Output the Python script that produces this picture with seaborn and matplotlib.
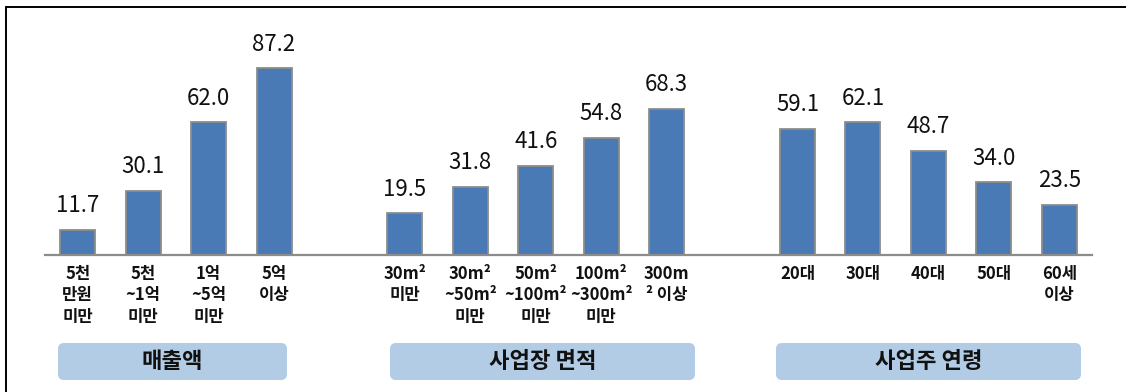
import matplotlib
matplotlib.use("Agg")
import matplotlib.pyplot as plt
from matplotlib.patches import FancyBboxPatch
from matplotlib.lines import Line2D
import numpy as np
import pandas as pd
import seaborn as sns

# ---- data ----
group_titles = ["매출액", "사업장 면적", "사업주 연령"]

sales_labels = ["5천\n만원\n미만", "5천\n~1억\n미만", "1억\n~5억\n미만", "5억\n이상"]
sales_values = [11.7, 30.1, 62.0, 87.2]

area_labels = ["30m²\n미만", "30m²\n~50m²\n미만", "50m²\n~100m²\n미만",
               "100m²\n~300m²\n미만", "300m\n² 이상"]
area_values = [19.5, 31.8, 41.6, 54.8, 68.3]

age_labels = ["20대", "30대", "40대", "50대", "60세\n이상"]
age_values = [59.1, 62.1, 48.7, 34.0, 23.5]

groups = [(sales_labels, sales_values),
          (area_labels, area_values),
          (age_labels, age_values)]

# ---- slot positions: one empty slot between groups ----
rows = []
pos = 0
for gi, (labs, vals) in enumerate(groups):
    for lab, val in zip(labs, vals):
        rows.append({"pos": pos, "label": lab, "value": val, "group": gi})
        pos += 1
    pos += 1
df = pd.DataFrame(rows)

sns.set_theme(style="white")
plt.rcParams["font.family"] = ["Noto Sans CJK KR", "DejaVu Sans"]

W, H, DPI = 11.26, 3.92, 100
fig = plt.figure(figsize=(W, H), dpi=DPI)
ax = fig.add_axes([45 / 1126, 1 - 255 / 392, (1092 - 45) / 1126, 214 / 392])

bar_color = "#4a7ab5"
sns.barplot(data=df, x="pos", y="value", native_scale=True, width=0.535,
            color=bar_color, edgecolor="#8c8c8c", linewidth=1.3,
            saturation=1, ax=ax)

ax.set_xlim(-0.5, pos - 1.5)
ax.set_ylim(0, 100)

for cont in ax.containers:
    ax.bar_label(cont, labels=[f"{v:.1f}" for v in df["value"]],
                 padding=9, fontsize=16, fontweight="medium", color="#111111")

ax.set_xticks(df["pos"])
ax.set_xticklabels(df["label"], fontsize=12, fontweight="bold",
                   color="#111111", linespacing=1.25)
ax.tick_params(axis="x", length=0, pad=7)
ax.set_yticks([])
ax.set_xlabel("")
ax.set_ylabel("")
for side in ["left", "right", "top"]:
    ax.spines[side].set_visible(False)
ax.spines["bottom"].set_color("#8c8c8c")
ax.spines["bottom"].set_linewidth(1.6)

# ---- group title boxes (pixel layout, converted to inches) ----
box_px = [(58, 287), (390, 695), (776, 1081)]
box_top, box_bot = 343, 380
for (x0, x1), title in zip(box_px, group_titles):
    patch = FancyBboxPatch((x0 / DPI, (H * DPI - box_bot) / DPI),
                           (x1 - x0) / DPI, (box_bot - box_top) / DPI,
                           boxstyle="round,pad=0,rounding_size=0.06",
                           transform=fig.dpi_scale_trans,
                           facecolor="#b1cce4", edgecolor="none")
    fig.patches.append(patch)
    fig.text((x0 + x1) / 2 / DPI / W, 1 - (box_top + box_bot) / 2 / (H * DPI),
             title, ha="center", va="center", fontsize=16,
             fontweight="bold", color="#111111")

# ---- outer frame lines (left and top) ----
fig.add_artist(Line2D([6 / 1126, 6 / 1126], [0, 1 - 7 / 392],
                      transform=fig.transFigure, color="black", linewidth=1.4))
fig.add_artist(Line2D([6 / 1126, 1], [1 - 7 / 392, 1 - 7 / 392],
                      transform=fig.transFigure, color="black", linewidth=1.4))

fig.savefig("out.png", dpi=DPI, facecolor="white")
